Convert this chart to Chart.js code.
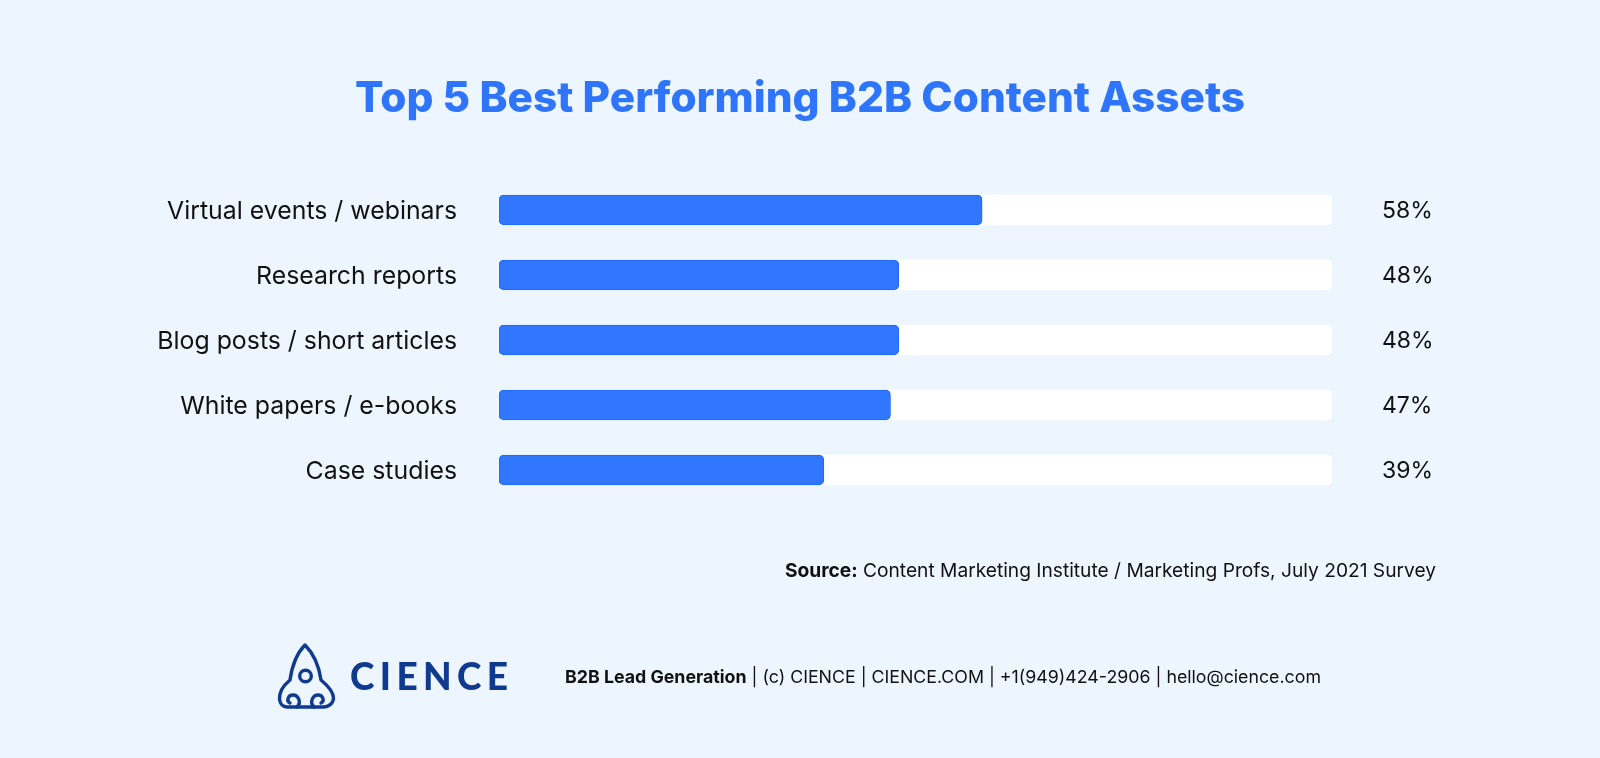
<!DOCTYPE html>
<html><head><meta charset="utf-8">
<script src="https://cdn.jsdelivr.net/npm/chart.js@4"></script>
<style>
html,body{margin:0;padding:0;background:#EDF6FE;width:1600px;height:758px;overflow:hidden}
#wrap{position:relative;width:1600px;height:758px}
canvas{position:absolute;left:0;top:0}
.t{position:absolute;white-space:nowrap;font-family:Inter,sans-serif;color:#111}
#source{right:164px;top:558px;font-size:19.18px;line-height:24px}
#footer{left:565px;top:665px;font-size:17.77px;line-height:24px}
#brand{left:350px;top:653px;font-family:Lato,sans-serif;font-weight:900;font-size:37px;line-height:46px;letter-spacing:5.4px;color:#0F3A8F}
svg{position:absolute;left:277px;top:642px}
</style></head><body>
<div id="wrap">
<canvas id="c" width="1600" height="758"></canvas>
<svg width="60" height="68" viewBox="0 0 60 68" fill="none" stroke="#0F3A8F" stroke-width="3.4" stroke-linecap="round" stroke-linejoin="round">
<path d="M28 3 C20 11 15 24 13 38 C7 43 2 49 2.500 57 C3 62 6 65 10 65 L46 65 C52 65 56.500 61 56.500 56 C56.500 49 50 43 44 38 C42 24 36 11 28 3 Z"/>
<circle cx="28.500" cy="34" r="5.800"/>
<path d="M20 65 C25 60 21 53 16 53 C11 53 9 59 13 61"/>
<path d="M37 65 C32 60 36 53 41 53 C46 53 48 59 44 61"/>
</svg>
<div class="t" id="brand">CIENCE</div>
<div class="t" id="source"><b>Source:</b> Content Marketing Institute / Marketing Profs, July 2021 Survey</div>
<div class="t" id="footer"><b>B2B Lead Generation</b> | (c) CIENCE | CIENCE.COM | +1(949)424-2906 | hello@cience.com</div>
</div>
<script>
const chartTitle = "Top 5 Best Performing B2B Content Assets";
const categories = ["Virtual events / webinars","Research reports","Blog posts / short articles","White papers / e-books","Case studies"];
const values = [58,48,48,47,39];
const trackValues = [100,100,100,100,100];
const valueLabels = ["58%","48%","48%","47%","39%"];

// Nudge tick text down so it sits on the bars' optical centre, as in the reference.
function nudgeTicks(s){
  const base = s.getPixelForTick;
  if(!s._nudged){ s._nudged = true; s.getPixelForTick = i => base.call(s,i) + 1.5; }
}

new Chart(document.getElementById('c'),{
  type:'bar',
  data:{labels:categories,datasets:[
    {label:'Share',data:values,backgroundColor:'#3176FF',borderColor:'#1E6AF5',borderWidth:1,borderRadius:5,borderSkipped:false,barThickness:30,grouped:false,order:1},
    {label:'Track',data:trackValues,backgroundColor:'#FFFFFF',borderWidth:0,borderRadius:5,borderSkipped:false,barThickness:30,grouped:false,order:2}
  ]},
  options:{
    indexAxis:'y',responsive:false,animation:false,devicePixelRatio:1,
    layout:{padding:{left:0,right:0,top:0,bottom:255.5}},
    plugins:{
      legend:{display:false},tooltip:{enabled:false},
      title:{display:true,text:chartTitle,color:'#2F75FB',align:'center',
        font:{family:'Inter',size:42.3,weight:'800',lineHeight:1.2},
        padding:{top:74,bottom:52.7}}
    },
    scales:{
      x:{display:false,min:0,max:100},
      y:{type:'category',position:'left',offset:true,grid:{display:false},border:{display:false},
        afterFit(s){s.width=499;nudgeTicks(s)},
        ticks:{color:'#111',padding:34,crossAlign:'near',font:{family:'Inter',size:24.85}}},
      y2:{type:'category',position:'right',labels:valueLabels,offset:true,grid:{display:false},border:{display:false},
        afterFit(s){s.width=268;nudgeTicks(s)},
        ticks:{color:'#111',padding:42,crossAlign:'near',font:{family:'Inter',size:23}}}
    }
  }
});
</script>
</body></html>
